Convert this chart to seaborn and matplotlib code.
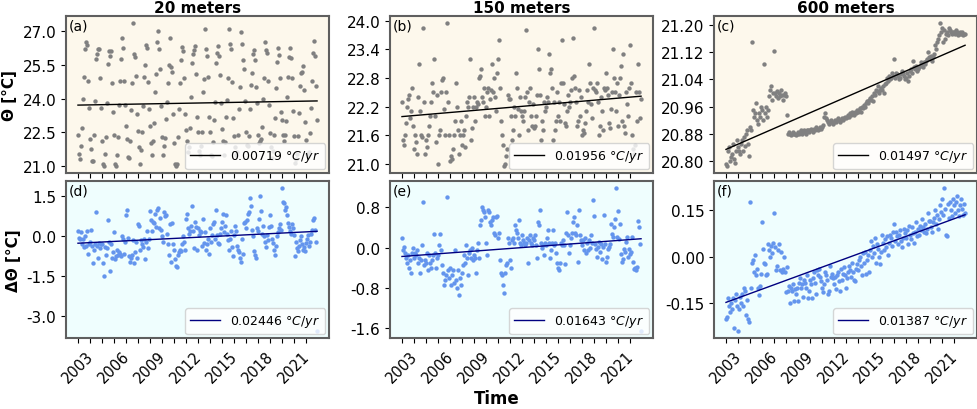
import numpy as np
import pandas as pd
import matplotlib
matplotlib.use("Agg")
import matplotlib.pyplot as plt
import seaborn as sns

# monthly time axis, Jan 2003 .. Dec 2022 (decimal years)
time = 2003 + np.arange(240) / 12

depths = ["20 meters", "150 meters", "600 meters"]
slope_labels_theta = ["0.00719", "0.01956", "0.01497"]
slope_labels_anom = ["0.02446", "0.01643", "0.01387"]

theta_20 = [
    22.4, 21.55, 21.3, 21.9, 22.7, 24.0, 24.95, 26.2, 26.5, 26.4, 24.8, 23.6,
    22.2, 21.75, 21.2, 21.2, 22.4, 23.9, 25.75, 26.0, 26.2, 26.2, 24.9, 23.6,
    22.1, 21.1, 21.0, 21.55, 22.3, 23.8, 25.55, 26.1, 25.9, 26.1, 24.7, 23.4,
    22.4, 21.1, 21.0, 21.5, 22.3, 23.7, 24.8, 25.75, 26.7, 26.25, 24.8, 23.7,
    22.8, 22.2, 21.4, 21.35, 22.1, 23.5, 24.7, 27.35, 26.0, 25.85, 25.0, 23.3,
    22.55, 21.85, 21.1, 21.7, 22.5, 23.65, 24.95, 25.5, 26.4, 26.25, 24.75, 23.55,
    22.8, 22.0, 21.5, 22.1, 22.9, 24.3, 25.1, 26.5, 27.0, 26.2, 25.3, 23.65,
    22.3, 21.5, 21.9, 22.25, 23.1, 23.85, 24.7, 25.5, 26.7, 25.4, 25.2, 23.3,
    22.0, 21.1, 21.0, 21.1, 22.3, 23.55, 24.7, 25.7, 26.3, 26.1, 24.9, 23.3,
    22.6, 22.1, 21.6, 21.85, 22.7, 24.05, 25.6, 26.0, 26.15, 26.35, 25.1, 23.2,
    22.5, 21.65, 21.5, 21.9, 22.5, 24.3, 24.85, 27.1, 26.2, 25.9, 24.95, 23.2,
    22.5, 21.5, 21.45, 22.05, 23.05, 23.85, 25.6, 26.05, 26.35, 25.9, 25.05, 23.8,
    22.65, 22.1, 21.5, 22.05, 23.2, 23.95, 24.9, 27.1, 26.45, 26.2, 24.75, 23.15,
    22.35, 21.85, 21.5, 21.6, 22.4, 23.55, 24.5, 26.95, 26.45, 25.7, 25.3, 23.9,
    22.5, 21.95, 21.9, 22.35, 23.55, 24.6, 25.15, 26.0, 26.15, 25.7, 24.5, 23.8,
    22.4, 22.0, 22.1, 22.2, 22.75, 24.0, 24.9, 26.5, 26.15, 26.05, 24.8, 23.7,
    22.45, 21.85, 21.35, 21.65, 22.4, 23.15, 24.45, 25.65, 26.25, 25.95, 24.9, 23.4,
    23.05, 22.4, 22.1, 22.4, 23.0, 24.05, 24.95, 25.85, 26.25, 25.8, 24.9, 23.45,
    22.35, 21.15, 21.3, 21.55, 22.35, 23.35, 24.55, 25.15, 25.2, 25.45, 24.4, 22.95,
    22.15, 21.55, 21.45, 21.6, 22.45, 23.6, 24.8, 26.05, 26.55, 25.9, 24.55, 23.05,
]

theta_150 = [
    22.3, 21.5, 21.4, 21.6, 21.85, 22.2, 22.35, 22.45, 21.95, 22.1, 22.6, 21.8,
    21.3, 21.6, 21.45, 21.2, 22.4, 23.1, 22.1, 21.6, 21.55, 23.85, 22.3, 21.2,
    21.5, 21.35, 21.6, 21.8, 22.0, 22.3, 22.7, 22.5, 23.2, 22.0, 21.45, 22.45,
    21.0, 21.6, 21.7, 22.5, 22.75, 22.8, 22.15, 21.6, 22.5, 23.95, 22.3, 21.6,
    21.05, 21.15, 21.1, 21.3, 21.6, 21.9, 22.7, 22.2, 21.7, 21.2, 21.6, 21.9,
    21.4, 21.6, 21.7, 21.35, 22.0, 22.3, 22.2, 22.4, 23.2, 21.5, 21.75, 22.2,
    22.4, 21.9, 22.2, 22.3, 22.25, 22.8, 22.85, 23.0, 22.4, 22.3, 22.6, 22.0,
    22.2, 22.5, 22.6, 22.0, 22.35, 22.55, 23.1, 22.5, 22.8, 22.4, 22.1, 22.9,
    23.2, 23.6, 22.6, 21.9, 21.6, 21.4, 20.95, 21.0, 21.15, 21.3, 22.45, 22.35,
    22.35, 22.0, 21.5, 21.7, 22.2, 22.0, 22.9, 22.6, 22.15, 21.6, 22.4, 22.1,
    22.0, 21.9, 22.1, 22.4, 23.8, 22.5, 21.7, 22.3, 22.6, 22.0, 21.8, 22.25,
    21.75, 21.8, 22.0, 22.45, 23.4, 23.0, 22.45, 21.5, 21.9, 21.7, 22.3, 22.1,
    22.2, 22.4, 22.3, 23.3, 22.9, 23.0, 22.6, 21.5, 22.3, 21.7, 21.9, 22.5,
    22.0, 22.3, 21.9, 22.7, 23.6, 22.7, 22.25, 21.85, 21.8, 22.1, 22.45, 22.2,
    22.3, 22.55, 22.8, 23.65, 22.85, 22.6, 22.3, 21.8, 21.9, 22.55, 22.0, 22.4,
    21.6, 21.7, 21.65, 21.85, 22.1, 22.55, 22.3, 23.1, 22.7, 22.25, 21.95, 22.6,
    23.85, 22.55, 22.5, 22.7, 22.3, 21.6, 21.8, 22.4, 22.1, 21.7, 22.6, 22.55,
    22.9, 22.6, 22.45, 21.85, 21.75, 22.15, 22.5, 23.4, 22.8, 22.5, 22.1, 22.7,
    21.8, 22.45, 22.8, 23.05, 21.9, 23.3, 21.8, 21.65, 22.5, 22.25, 22.0, 22.6,
    23.5, 22.7, 21.6, 21.3, 21.2, 21.4, 22.5, 21.9, 23.1, 22.5, 21.95, 22.35,
]

theta_600 = [
    20.79, 20.785, 20.83, 20.84, 20.80, 20.81, 20.82, 20.85, 20.805, 20.795, 20.83, 20.86,
    20.84, 20.83, 20.82, 20.85, 20.86, 20.83, 20.87, 20.845, 20.88, 20.89, 20.85, 20.815,
    20.90, 20.89, 21.15, 20.95, 20.93, 20.94, 20.97, 20.92, 20.91, 20.94, 20.93, 20.96,
    20.95, 20.92, 21.085, 20.94, 20.96, 20.93, 20.95, 20.99, 21.01, 21.02, 20.98, 21.00,
    21.125, 21.0, 20.99, 21.005, 20.985, 21.0, 20.99, 21.01, 20.995, 20.98, 20.995, 21.0,
    20.99, 20.935, 20.88, 20.885, 20.88, 20.875, 20.88, 20.885, 20.88, 20.88, 20.875, 20.88,
    20.885, 20.88, 20.885, 20.89, 20.88, 20.885, 20.89, 20.885, 20.88, 20.89, 20.89, 20.885,
    20.89, 20.895, 20.89, 20.885, 20.895, 20.89, 20.9, 20.895, 20.89, 20.895, 20.9, 20.895,
    20.9, 20.905, 20.93, 20.94, 20.925, 20.92, 20.915, 20.91, 20.915, 20.92, 20.915, 20.91,
    20.915, 20.92, 20.915, 20.92, 20.925, 20.92, 20.915, 20.92, 20.925, 20.92, 20.925, 20.93,
    20.925, 20.93, 20.935, 20.93, 20.94, 20.935, 20.945, 20.94, 20.935, 20.945, 20.94, 20.95,
    20.945, 20.95, 20.955, 20.945, 20.96, 20.955, 20.965, 20.96, 20.97, 20.975, 20.97, 20.98,
    20.985, 20.98, 20.99, 20.975, 21.0, 20.995, 21.01, 21.005, 21.02, 21.0, 21.01, 21.015,
    21.01, 21.02, 21.0, 21.025, 21.03, 21.045, 21.035, 21.05, 21.04, 21.045, 21.06, 21.05,
    21.1, 21.045, 21.06, 21.055, 21.05, 21.04, 21.045, 21.055, 21.065, 21.06, 21.05, 21.04,
    21.045, 21.06, 21.035, 21.05, 21.065, 21.07, 21.06, 21.095, 21.075, 21.07, 21.08, 21.065,
    21.07, 21.075, 21.08, 21.09, 21.085, 21.075, 21.09, 21.085, 21.095, 21.1, 21.12, 21.105,
    21.1, 21.11, 21.095, 21.105, 21.115, 21.14, 21.13, 21.15, 21.16, 21.17, 21.205, 21.18,
    21.19, 21.15, 21.185, 21.16, 21.175, 21.18, 21.17, 21.19, 21.185, 21.18, 21.175, 21.18,
    21.18, 21.175, 21.185, 21.18, 21.17, 21.175, 21.18, 21.175, 21.18, 21.17, 21.175, 21.175,
]

anom_20 = [
    0.2, -0.05, -0.1, 0.15, -0.3, -0.1, -0.4, 0.0, -0.35, 0.2, -0.65, -0.3,
    -0.2, 0.25, -0.35, -1.0, -0.5, -0.3, 0.9, -0.35, -0.8, -0.25, -0.45, -0.3,
    -0.3, -1.0, -1.5, -0.4, -0.7, -0.45, 0.6, -0.2, -1.3, -0.3, -0.8, -0.6,
    0.15, -0.85, -0.75, -0.5, -0.7, -0.6, -0.65, -0.75, 0.0, -0.1, -0.65, -0.2,
    0.8, 1.0, -0.05, -0.75, -0.95, -0.8, -0.7, -0.15, -1.0, -0.6, -0.2, -0.8,
    0.45, 0.4, -0.5, -0.15, -0.3, -0.4, -0.1, -0.85, -0.2, 0.2, -0.45, -0.1,
    0.95, 0.6, 0.2, 0.55, 0.5, 0.85, 0.35, 1.0, 1.05, 0.3, 0.7, 0.25,
    0.0, -0.2, 0.9, 0.75, 0.8, 0.1, -0.3, -0.7, 0.45, -0.95, 0.5, -0.3,
    -0.5, -0.85, -1.1, -1.15, -0.7, -0.6, -0.5, -0.55, -0.3, 0.0, -0.2, -0.5,
    0.65, 0.85, 0.3, 0.1, 0.2, 0.4, 1.15, 0.2, -0.45, 0.55, 0.35, -0.5,
    0.3, 0.05, 0.2, 0.15, -0.35, 0.65, -0.25, 0.15, -0.5, -0.3, -0.1, -0.65,
    0.3, -0.2, 0.05, 0.45, 0.55, -0.1, 1.0, 0.05, -0.25, -0.3, 0.1, 0.3,
    0.55, 0.85, 0.15, 0.4, 0.8, 0.1, -0.15, -0.5, -0.1, 0.2, -0.4, -0.75,
    0.05, 0.4, 0.2, -0.35, -0.5, -0.6, -0.8, -0.95, -0.1, -0.65, 0.5, 0.55,
    0.3, 0.6, 0.85, 0.9, 1.45, 1.15, 0.25, 0.0, -0.55, -0.7, -0.8, 0.3,
    0.2, 0.65, 1.5, 0.95, 0.1, 0.4, 0.0, -0.2, -0.4, 0.05, -0.15, 0.35,
    0.8, 0.4, -0.1, -0.25, -0.5, -0.7, -0.35, 0.0, 0.15, 0.3, 0.45, 0.25,
    1.8, 1.3, 1.25, 1.0, 1.1, 0.8, 0.5, 0.35, 0.2, 0.1, 0.45, 0.3,
    0.05, -0.75, -0.2, -0.45, -0.55, -0.35, -0.15, 0.0, -0.3, -0.5, -0.4, -0.55,
    -0.25, -0.1, 0.05, -0.35, -0.2, 0.1, 0.25, 0.6, 0.7, 0.25, -0.2, -3.55,
]

anom_150 = [
    0.2, -0.05, 0.02, -0.1, -0.2, -0.3, -0.15, -0.4, -0.25, -0.5, -0.1, 0.0,
    -0.2, -0.1, -0.15, -0.05, -0.3, -0.2, -0.5, -0.25, 0.05, 0.9, -0.35, -0.25,
    -0.3, -0.1, -0.45, -0.15, -0.3, -0.4, -0.25, -0.15, 0.28, -0.1, -0.4, -0.2,
    -0.15, 0.05, 0.28, -0.05, -0.35, -0.5, -0.75, -0.65, -0.55, 1.0, -0.45, -0.6,
    -0.4, -0.75, -0.55, -0.45, -0.7, -0.05, -0.65, -0.8, -0.45, -0.95, -0.6, -0.75,
    -0.5, -0.35, -0.15, -0.3, 0.05, -0.2, -0.55, -0.1, -0.05, -0.2, 0.0, -0.25,
    -0.15, -0.2, -0.5, -0.05, 0.1, -0.2, 0.45, 0.55, 0.8, 0.75, 0.7, 0.6,
    0.1, -0.15, 0.75, 0.7, 0.5, 0.45, 0.55, 0.6, 0.3, 0.25, 0.6, 0.62,
    0.2, 0.3, -0.25, -0.5, -0.55, -0.75, -0.9, -0.5, -0.35, -0.3, 0.2, 0.1,
    -0.25, -0.4, 0.15, 0.2, 0.1, 0.45, 0.35, 0.3, 0.2, 0.55, 0.1, 0.05,
    0.25, 0.15, 0.1, 0.05, 0.1, 0.2, -0.3, 0.15, 0.25, 0.1, 0.05, 0.2,
    0.15, 0.25, 0.05, -0.2, 0.5, 0.45, 0.75, 0.1, 0.0, 0.05, -0.15, 0.1,
    0.05, 0.2, 0.35, 0.1, -0.2, -0.05, 0.1, 0.35, 0.05, 0.1, -0.1, -0.3,
    -0.4, -0.45, -0.3, 0.1, 0.05, 0.15, 0.05, -0.33, 0.3, 0.7, 0.25, -0.1,
    0.05, 0.2, 0.3, 0.5, 0.6, 0.3, 0.25, 0.45, -0.28, 0.74, 0.25, 0.15,
    0.05, 0.15, -0.05, 0.2, -0.1, 0.1, -0.05, 0.15, 0.0, 0.25, 0.1, 0.94,
    0.62, 0.07, -0.03, -0.18, 0.02, 0.12, -0.08, 0.07, -0.23, 0.02, 0.64, 0.07,
    -0.28, -0.18, -0.03, 0.02, 0.07, 0.47, 0.27, 0.22, 0.42, 0.57, 1.18, 0.22,
    0.73, 0.17, 0.47, -0.13, -0.28, -0.23, -0.03, -0.08, 0.12, 0.22, -0.18, -0.03,
    -0.13, -0.08, 0.22, -0.28, -0.43, -0.41, -0.45, -0.38, 0.52, 0.42, 0.07, -1.66,
]

anom_600 = [
    -0.2, -0.195, -0.135, -0.16, -0.18, -0.15, -0.17, -0.135, -0.23, -0.14, -0.12, -0.16,
    -0.24, -0.17, -0.13, -0.15, -0.12, -0.16, -0.10, -0.11, -0.19, -0.14, -0.20, -0.21,
    0.175, -0.1, -0.02, -0.01, -0.05, 0.005, -0.06, -0.04, -0.1, -0.125, -0.095, -0.055,
    0.11, 0.025, -0.02, -0.025, -0.06, -0.055, 0.04, 0.02, 0.0, 0.035, 0.01, 0.045,
    0.14, 0.03, -0.045, -0.03, 0.02, 0.04, -0.045, 0.015, -0.05, -0.04, 0.0, -0.05,
    -0.115, -0.035, -0.11, -0.095, -0.15, -0.1, -0.11, -0.09, -0.145, -0.105, -0.12, -0.1,
    -0.145, -0.085, -0.07, -0.1, -0.09, -0.13, -0.075, -0.085, -0.1, -0.06, -0.135, -0.11,
    -0.075, -0.09, -0.135, -0.07, -0.05, -0.085, -0.12, -0.045, -0.06, -0.04, -0.065, -0.08,
    -0.1, -0.115, -0.09, -0.05, -0.06, -0.075, -0.12, -0.11, -0.03, -0.065, -0.055, -0.07,
    -0.09, -0.065, -0.105, -0.06, -0.05, -0.08, -0.11, -0.04, -0.075, -0.055, -0.035, -0.06,
    -0.1, -0.07, -0.05, -0.03, -0.045, -0.065, -0.02, -0.05, -0.075, -0.08, -0.04, -0.025,
    -0.045, -0.01, 0.0, -0.03, -0.06, 0.01, -0.02, 0.015, -0.055, -0.01, 0.005, -0.05,
    0.02, 0.05, 0.0, 0.035, 0.01, 0.06, -0.02, 0.04, 0.025, 0.0, -0.025, 0.015,
    0.07, 0.045, 0.02, 0.055, 0.03, 0.065, 0.005, 0.045, 0.07, 0.06, 0.035, 0.08,
    0.105, 0.05, 0.08, 0.065, 0.04, 0.07, 0.085, 0.05, 0.03, 0.06, 0.09, 0.075,
    0.06, 0.085, 0.04, 0.1, 0.07, 0.055, 0.095, 0.075, 0.045, 0.08, 0.11, 0.065,
    0.09, 0.07, 0.1, 0.085, 0.12, 0.095, 0.08, 0.105, 0.075, 0.09, 0.14, 0.115,
    0.115, 0.095, 0.08, 0.11, 0.125, 0.15, 0.105, 0.135, 0.09, 0.12, 0.165, 0.145,
    0.185, 0.135, 0.22, 0.155, 0.07, 0.065, 0.17, 0.125, 0.175, 0.15, 0.13, 0.185,
    0.165, 0.14, 0.175, 0.195, 0.15, 0.13, 0.165, 0.185, 0.155, 0.135, 0.17, 0.14,
]

theta_yticks = [
    [21.0, 22.5, 24.0, 25.5, 27.0],
    [21.0, 21.6, 22.2, 22.8, 23.4, 24.0],
    [20.80, 20.88, 20.96, 21.04, 21.12, 21.20],
]
anom_yticks = [
    [-3.0, -1.5, 0.0, 1.5],
    [-1.6, -0.8, 0.0, 0.8],
    [-0.15, 0.00, 0.15],
]
tick_fmt = ["{:.1f}", "{:.1f}", "{:.2f}"]
year_ticks = list(range(2003, 2023))

fig, axes = plt.subplots(2, 3, figsize=(9.78, 4.10), dpi=100, sharex="col")
fig.subplots_adjust(left=0.0675, right=0.999, top=0.958, bottom=0.173,
                    wspace=0.232, hspace=0.052)


def panel(ax, values, pt_color, ln_color, face, label, yticks, fmt, tag):
    df = pd.DataFrame({"time": time, "value": values})
    ax.set_facecolor(face)
    sns.scatterplot(data=df, x="time", y="value", ax=ax, color=pt_color,
                    s=10, linewidth=0, zorder=2)
    sns.regplot(data=df, x="time", y="value", ax=ax, scatter=False, ci=None,
                color=ln_color, line_kws={"lw": 1.0, "zorder": 3},
                label=label + r" $°C/yr$")
    ax.set_yticks(yticks)
    ax.set_yticklabels([fmt.format(v) for v in yticks])
    ax.set_xticks(year_ticks)
    ax.set_xticklabels([str(y) if (y - 2003) % 3 == 0 else "" for y in year_ticks])
    ax.set_xlabel("")
    ax.set_ylabel("")
    ax.tick_params(axis="y", labelsize=11)
    ax.tick_params(axis="x", labelsize=10.5)
    for sp in ax.spines.values():
        sp.set_color("#5f5f5f")
        sp.set_linewidth(1.5)
    ax.text(0.012, 0.985, tag, transform=ax.transAxes, ha="left", va="top", fontsize=10)
    ax.legend(loc="lower right", fontsize=9, borderaxespad=0.3, handlelength=2.4)


tags_top = ["(a)", "(b)", "(c)"]
tags_bot = ["(d)", "(e)", "(f)"]
theta = [theta_20, theta_150, theta_600]
anom = [anom_20, anom_150, anom_600]

for i in range(3):
    panel(axes[0, i], theta[i], "grey", "black", "#fdf8ec", slope_labels_theta[i],
          theta_yticks[i], tick_fmt[i], tags_top[i])
    axes[0, i].set_title(depths[i], fontsize=11, fontweight="bold", pad=3)
    axes[0, i].tick_params(labelbottom=False)
    panel(axes[1, i], anom[i], "cornflowerblue", "navy", "#effefe", slope_labels_anom[i],
          anom_yticks[i], tick_fmt[i], tags_bot[i])
    for lab in axes[1, i].get_xticklabels():
        lab.set_rotation(45)
        lab.set_ha("center")

axes[0, 0].set_ylabel("Θ [°C]", fontsize=11, fontweight="bold")
axes[1, 0].set_ylabel("ΔΘ [°C]", fontsize=11, fontweight="bold")
fig.text(0.508, 0.027, "Time", ha="center", va="center", fontsize=12, fontweight="bold")

fig.savefig("out.png", dpi=100)
